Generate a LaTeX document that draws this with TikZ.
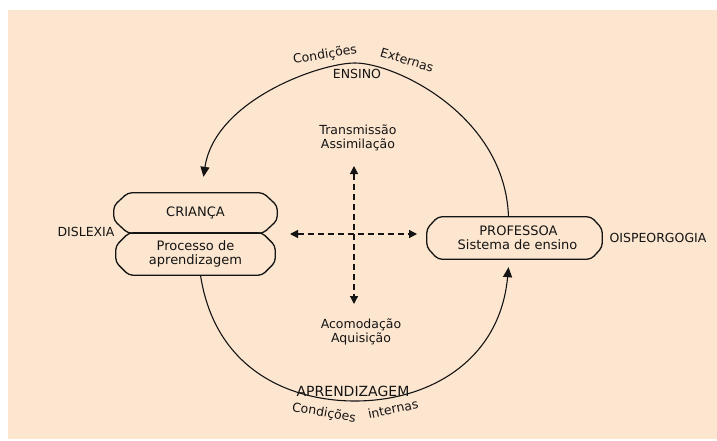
\documentclass[tikz,border=0pt]{standalone}
\usepackage{fontspec}
\setmainfont{DejaVu Sans}
\usetikzlibrary{arrows.meta}
\definecolor{peach}{HTML}{FDE6CF}
\definecolor{ink}{HTML}{141414}

% outline with cut, rounded corners around a named slot node
\newcommand{\cutbox}[3]{%
  \draw[boxline]
    ([xshift=#2]#1.north west) -- ([xshift=-#2]#1.north east)
    -- ([yshift=-#3]#1.north east) -- ([yshift=#3]#1.south east)
    -- ([xshift=-#2]#1.south east) -- ([xshift=#2]#1.south west)
    -- ([yshift=#3]#1.south west) -- ([yshift=-#3]#1.north west) -- cycle;}

\tikzset{
  lbl/.style={font=\fontsize{12.5}{14}\selectfont, text=ink, inner sep=0pt, align=center},
  boxslot/.style={rectangle, inner sep=0pt, align=center, text=ink,
                  font=\fontsize{13}{14}\selectfont},
  boxline/.style={draw=ink, line width=1.3pt, rounded corners=4pt},
  arc/.style={draw=ink, line width=1.1pt},
  arctip/.style={-{Triangle[length=10pt,width=9pt]}},
  crossline/.style={draw=ink, line width=1.2pt, dash pattern=on 6pt off 4pt,
                    {Triangle[length=8pt,width=8pt]}-{Triangle[length=8pt,width=8pt]}}
}

\begin{document}
\begin{tikzpicture}[x=1pt,y=-1pt]
  % page and panel
  \fill[white] (0,0) rectangle (717,441);
  \fill[peach] (8,10) rectangle (717,439);
  \useasboundingbox (0,0) rectangle (717,441);

  % boxes
  \node[boxslot, minimum width=163, minimum height=40] (cri) at (195.5,213) {CRIANÇA};
  \node[boxslot, minimum width=159, minimum height=42] (proc) at (195.5,254) {Processo de\\aprendizagem};
  \node[boxslot, minimum width=175, minimum height=42] (prof) at (514.5,238) {\hspace*{8pt}PROFESSOA\\\hspace*{6pt}Sistema de ensino};
  \cutbox{cri}{14}{13}
  \cutbox{proc}{13}{13}
  \cutbox{prof}{11}{12}

  % side labels
  \node[lbl] (dys) at (86,232) {DISLEXIA};
  \node[lbl] (disp) at (658,238) {OISPEORGOGIA};

  % centre labels
  \node[lbl] (trans) at (358,138) {Transmissão\\Assimilação};
  \node[lbl] (acom) at (361,332) {Acomodação\\Aquisição};

  % dashed cross
  \coordinate (hl) at (290,234);
  \coordinate (hr) at (417,234);
  \coordinate (vt) at (354,166);
  \coordinate (vb) at (354,304);
  \draw[crossline] (hl) -- (hr);
  \draw[crossline] (vt) -- (vb);

  % outer loop
  \coordinate (ensinoTop) at (355,63);
  \coordinate (aprBot) at (355,401);
  \draw[arc, arctip] ([xshift=-6]prof.north) .. controls (505,115) and (395,63) .. (ensinoTop)
        .. controls (320,63) and (215,100) .. ([xshift=8, yshift=16]cri.north);
  \draw[arc, arctip] ([xshift=5]proc.south) .. controls (215,370) and (290,401) .. (aprBot)
        .. controls (430,401) and (500,360) .. ([xshift=-6, yshift=-8]prof.south);

  % loop labels
  \node[lbl, rotate=9] (cext1) at (325,55) {Condições};
  \node[lbl, rotate=-17] (cext2) at (407,60) {Externas};
  \node[lbl] (ens) at (357,74) {ENSINO};
  \node[lbl, font=\fontsize{14}{14}\selectfont] (apr) at (353,391) {APRENDIZAGEM};
  \node[lbl, rotate=-10] (cint1) at (324,413) {Condições};
  \node[lbl, rotate=12] (cint2) at (393,409) {internas};
\end{tikzpicture}
\end{document}
